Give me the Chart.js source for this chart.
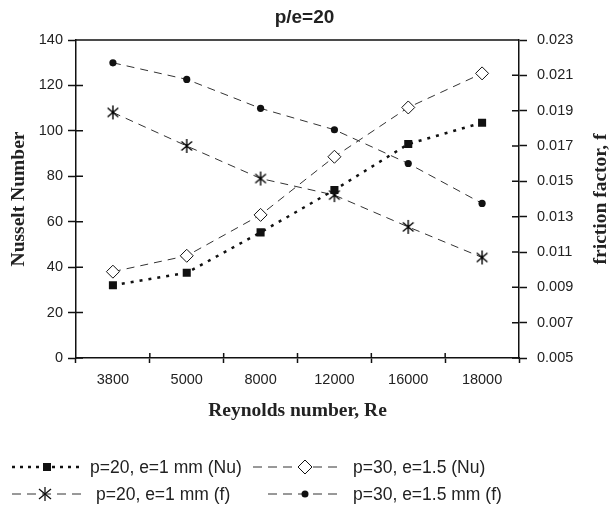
<!DOCTYPE html>
<html>
<head>
<meta charset="utf-8">
<script src="https://cdn.jsdelivr.net/npm/chart.js@4.4.1/dist/chart.umd.min.js"></script>
<style>
    html, body { margin: 0; padding: 0; background: #fff; }
    #wrap { position: relative; width: 609px; height: 517px; }
    #grafica { position: absolute; left: 0; top: 0; }
    .leyenda { position: absolute; display: flex; align-items: center; font-family: Arial, "Liberation Sans", sans-serif; font-size: 17.5px; color: #222; white-space: nowrap; }
    .leyenda svg { display: block; }
</style>
</head>
<body>
<div id="wrap">
    <canvas id="grafica" width="609" height="517"></canvas>
    <div class="leyenda" style="left:12px; top:455px;">
        <svg width="70" height="24"><line x1="0" y1="12" x2="70" y2="12" stroke="#111" stroke-width="2.5" stroke-dasharray="3 5"/><rect x="31" y="8" width="8" height="8" fill="#111"/></svg>
        <span style="margin-left:8px">p=20, e=1 mm (Nu)</span>
    </div>
    <div class="leyenda" style="left:253px; top:455px;">
        <svg width="90" height="24"><line x1="0" y1="12" x2="90" y2="12" stroke="#333" stroke-width="1" stroke-dasharray="9 6"/><polygon points="52,5 59,12 52,19 45,12" fill="#fff" stroke="#111" stroke-width="1"/></svg>
        <span style="margin-left:10px">p=30, e=1.5 (Nu)</span>
    </div>
    <div class="leyenda" style="left:12px; top:482px;">
        <svg width="74" height="24"><line x1="0" y1="12" x2="74" y2="12" stroke="#333" stroke-width="1" stroke-dasharray="9 6"/><g stroke="#111" stroke-width="1.3"><line x1="33" y1="5" x2="33" y2="19"/><line x1="27" y1="7" x2="39" y2="17"/><line x1="27" y1="17" x2="39" y2="7"/></g></svg>
        <span style="margin-left:10px">p=20, e=1 mm (f)</span>
    </div>
    <div class="leyenda" style="left:268px; top:482px;">
        <svg width="75" height="24"><line x1="0" y1="12" x2="75" y2="12" stroke="#333" stroke-width="1" stroke-dasharray="9 6"/><circle cx="37" cy="12" r="3.5" fill="#111"/></svg>
        <span style="margin-left:10px">p=30, e=1.5 mm (f)</span>
    </div>
</div>
<script>
// Datos
const categorias = ['3800', '5000', '8000', '12000', '16000', '18000'];
const nuP20 = [32, 37.5, 55.3, 74, 94.2, 103.6];
const nuP30 = [38, 45, 63, 88.6, 110.3, 125.3];
const fP20 = [0.0189, 0.0170, 0.01516, 0.01422, 0.01242, 0.01069];
const fP30 = [0.02171, 0.02077, 0.01913, 0.01792, 0.01601, 0.01375];
const ticksNu = [0, 20, 40, 60, 80, 100, 120, 140];
const ticksF = [0.005, 0.007, 0.009, 0.011, 0.013, 0.015, 0.017, 0.019, 0.021, 0.023];

const colorTexto = '#222';
const fuenteTicks = { family: 'Arial, "Liberation Sans", sans-serif', size: 14.5 };
const fuenteTitulo = { family: '"Times New Roman", "Liberation Serif", serif', size: 19.5, weight: 'bold' };

// Asterisco de 6 brazos para la serie f (p=20)
function crearEstrella(tam) {
    const c = document.createElement('canvas');
    c.width = tam; c.height = tam;
    const g = c.getContext('2d');
    const m = tam / 2, r = tam / 2 - 1;
    g.strokeStyle = '#000';
    g.lineWidth = 1.4;
    g.beginPath();
    g.moveTo(m, m - r); g.lineTo(m, m + r);
    const a = Math.PI / 180 * 40;
    g.moveTo(m - r * Math.cos(a), m - r * Math.sin(a)); g.lineTo(m + r * Math.cos(a), m + r * Math.sin(a));
    g.moveTo(m - r * Math.cos(a), m + r * Math.sin(a)); g.lineTo(m + r * Math.cos(a), m - r * Math.sin(a));
    g.stroke();
    return c;
}
const estrella = crearEstrella(16);

// Marcas hacia adentro, borde superior y título del eje derecho
const extras = {
    id: 'extras',
    afterDraw(chart) {
        const { ctx, chartArea: a, scales } = chart;
        ctx.save();
        ctx.strokeStyle = '#111';
        ctx.lineWidth = 1.5;
        ctx.beginPath();
        ctx.moveTo(a.left, a.top); ctx.lineTo(a.right, a.top);
        scales.y.ticks.forEach((t, i) => {
            const y = scales.y.getPixelForTick(i);
            ctx.moveTo(a.left, y); ctx.lineTo(a.left + 7, y);
        });
        scales.y1.ticks.forEach((t, i) => {
            const y = scales.y1.getPixelForTick(i);
            ctx.moveTo(a.right - 7, y); ctx.lineTo(a.right, y);
        });
        const n = categorias.length;
        for (let k = 1; k < n; k++) {
            const x = scales.x.left + k * scales.x.width / n;
            ctx.moveTo(x, a.bottom); ctx.lineTo(x, a.bottom - 5);
        }
        ctx.stroke();

        ctx.fillStyle = colorTexto;
        ctx.font = 'bold 19.5px "Times New Roman", "Liberation Serif", serif';
        ctx.textAlign = 'center';
        ctx.textBaseline = 'middle';
        ctx.translate(601, (a.top + a.bottom) / 2);
        ctx.rotate(-Math.PI / 2);
        ctx.fillText('friction factor, f', 0, 0);
        ctx.restore();
    }
};

new Chart(document.getElementById('grafica'), {
    type: 'line',
    data: {
        labels: categorias,
        datasets: [
            {
                label: 'p=20, e=1 mm (Nu)',
                data: nuP20,
                yAxisID: 'y',
                borderColor: '#111',
                borderWidth: 2.5,
                borderDash: [3, 6],
                pointStyle: 'rect',
                pointRadius: 5.7,
                pointBackgroundColor: '#111',
                pointBorderColor: '#111',
                pointBorderWidth: 0
            },
            {
                label: 'p=30, e=1.5 (Nu)',
                data: nuP30,
                yAxisID: 'y',
                borderColor: '#333',
                borderWidth: 1,
                borderDash: [8, 6],
                pointStyle: 'rectRot',
                pointRadius: 6.5,
                pointBackgroundColor: '#fff',
                pointBorderColor: '#111',
                pointBorderWidth: 1
            },
            {
                label: 'p=20, e=1 mm (f)',
                data: fP20,
                yAxisID: 'y1',
                borderColor: '#333',
                borderWidth: 1,
                borderDash: [8, 6],
                pointStyle: estrella
            },
            {
                label: 'p=30, e=1.5 mm (f)',
                data: fP30,
                yAxisID: 'y1',
                borderColor: '#333',
                borderWidth: 1,
                borderDash: [8, 6],
                pointStyle: 'circle',
                pointRadius: 3.6,
                pointBackgroundColor: '#111',
                pointBorderColor: '#111',
                pointBorderWidth: 0
            }
        ]
    },
    options: {
        responsive: false,
        animation: false,
        layout: { padding: { left: 0, right: 0, top: 0, bottom: 89 } },
        plugins: {
            legend: { display: false },
            tooltip: { enabled: false },
            title: {
                display: true,
                text: 'p/e=20',
                color: colorTexto,
                font: { family: 'Arial, "Liberation Sans", sans-serif', size: 19, weight: 'bold' },
                padding: { top: 6, bottom: 11.2 }
            }
        },
        scales: {
            x: {
                offset: true,
                grid: { drawOnChartArea: false, offset: true, tickLength: 5, color: '#111', tickWidth: 1.5 },
                border: { color: '#111', width: 1.5 },
                ticks: { color: colorTexto, font: fuenteTicks, padding: 8, maxRotation: 0 },
                title: { display: true, text: 'Reynolds number, Re', color: colorTexto, font: fuenteTitulo, padding: { top: 0, bottom: 5 } },
                afterFit: (s) => { s.height = 70; }
            },
            y: {
                position: 'left',
                min: 0,
                max: 140,
                afterBuildTicks: (s) => { s.ticks = ticksNu.map(v => ({ value: v })); },
                grid: { drawOnChartArea: false, tickLength: 8, color: '#111', tickWidth: 1.5 },
                border: { color: '#111', width: 1.5 },
                ticks: { color: colorTexto, font: fuenteTicks, padding: 5 },
                title: { display: true, text: 'Nusselt Number', color: colorTexto, font: fuenteTitulo, padding: { top: 7, bottom: 0 } },
                afterFit: (s) => { s.width = 76; }
            },
            y1: {
                position: 'right',
                min: 0.005,
                max: 0.023,
                afterBuildTicks: (s) => { s.ticks = ticksF.map(v => ({ value: v })); },
                grid: { drawOnChartArea: false, tickLength: 8, color: '#111', tickWidth: 1.5 },
                border: { color: '#111', width: 1.5 },
                ticks: { color: colorTexto, font: fuenteTicks, padding: 10, callback: (v) => Number(v).toFixed(3) },
                afterFit: (s) => { s.width = 90; }
            }
        }
    },
    plugins: [extras]
});
</script>
</body>
</html>
